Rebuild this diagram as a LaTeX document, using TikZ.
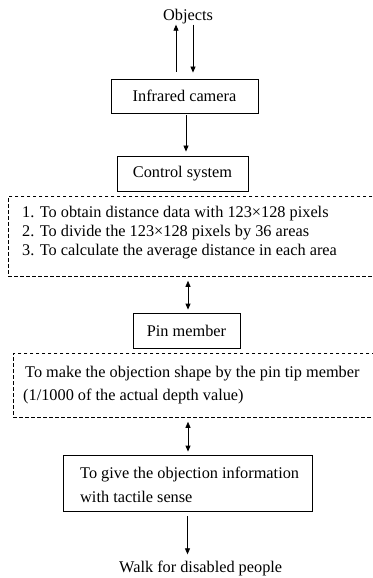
\documentclass[tikz,border=0pt]{standalone}
\usepackage{fontspec}
\setmainfont{Liberation Serif}
\usetikzlibrary{arrows.meta,calc}
\newcommand\fsz{\fontsize{16.3bp}{19bp}\selectfont}
\tikzset{
  solidbox/.style={draw, line width=0.8bp, inner sep=0pt},
  dashbox/.style={draw, line width=0.8bp, dash pattern=on 3.5bp off 2.5bp, inner sep=0pt, anchor=north west},
  txt/.style={font=\fsz, inner sep=0pt, anchor=base west},
  arr/.style={line width=0.8bp, -{Triangle[length=6bp,width=5bp]}},
  darr/.style={line width=0.8bp, {Triangle[length=6bp,width=5bp]}-{Triangle[length=6bp,width=5bp]}}
}
\begin{document}
\begin{tikzpicture}[x=1bp,y=-1bp]
\useasboundingbox (0,0) rectangle (372,578);
% nodes
\node[font=\fsz, inner sep=0pt, anchor=base] (obj) at (188,21) {Objects};
\node[solidbox, minimum width=147bp, minimum height=34bp, font=\fsz] (cam) at (184.5,96) {Infrared camera};
\node[solidbox, minimum width=131bp, minimum height=35bp, font=\fsz] (ctrl) at (182.5,173.5) {Control system};
\node[dashbox, minimum width=382bp, minimum height=80bp] (d1) at (8,196) {};
\node[txt] (l1) at (22,217) {1. To obtain distance data with 123×128 pixels};
\node[txt] (l2) at (22,236) {2. To divide the 123×128 pixels by 36 areas};
\node[txt] (l3) at (22,255) {3. To calculate the average distance in each area};
\node[solidbox, minimum width=107bp, minimum height=35bp, font=\fsz] (pin) at (186.5,330.5) {Pin member};
\node[dashbox, minimum width=377bp, minimum height=64bp] (d2) at (13,353) {};
\node[txt] (m1) at (25,377) {To make the objection shape by the pin tip member};
\node[txt] (m2) at (23,400) {(1/1000 of the actual depth value)};
\node[solidbox, minimum width=249bp, minimum height=56bp] (fin) at (187.5,483) {};
\node[txt] (f1) at (80,478) {To give the objection information};
\node[txt] (f2) at (80,502) {with tactile sense};
\node[txt] (walk) at (119,572) {Walk for disabled people};
% connectors
\draw[arr, shorten <=7bp] ([xshift=-8.5bp]cam.north) -- ([xshift=-8.5bp]cam.north |- obj.south);
\draw[arr, shorten >=6bp] ([xshift=8.5bp]cam.north |- obj.south) -- ([xshift=8.5bp]cam.north);
\draw[arr, shorten <=2bp, shorten >=4bp] ([xshift=1.5bp]cam.south) -- ([xshift=1.5bp]cam.south |- ctrl.north);
\draw[darr, shorten <=4bp, shorten >=3bp] (d1.south -| pin.north) ++(1.5bp,0) coordinate (a1) -- (a1 |- pin.north);
\draw[darr, shorten <=4bp, shorten >=3bp] ([xshift=1.5bp]pin.south |- d2.south) coordinate (a2) -- (a2 |- fin.north);
\draw[arr, shorten <=5bp, shorten >=6bp] (fin.south) -- (fin.south |- walk.north);
\end{tikzpicture}
\end{document}
